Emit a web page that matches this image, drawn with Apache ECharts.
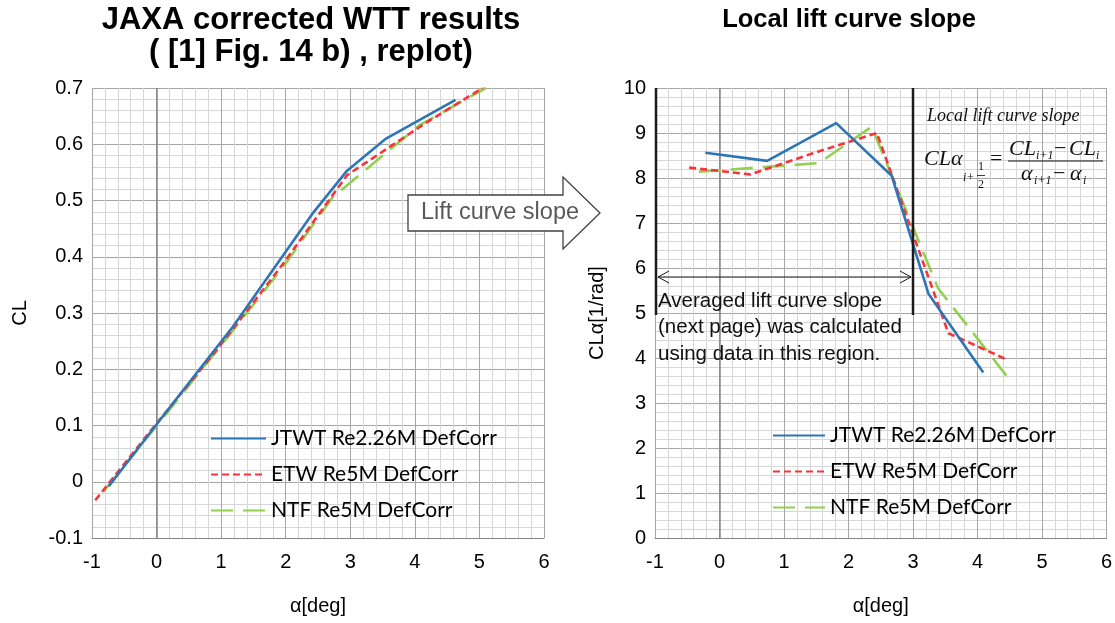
<!DOCTYPE html>
<html>
<head>
<meta charset="utf-8">
<script src="https://cdn.jsdelivr.net/npm/echarts@6/dist/echarts.min.js"></script>
<style>
html,body{margin:0;padding:0;background:#fff;}
#chart{width:1115px;height:623px;}
</style>
</head>
<body>
<div id="chart"></div>
<script>
// ---- data ----
const seriesNames = ['JTWT Re2.26M DefCorr', 'ETW Re5M DefCorr', 'NTF Re5M DefCorr'];
// Left chart: CL vs alpha [deg]
const clJTWT = [[-0.74,-0.008],[0.29,0.145],[1.19,0.277],[2.43,0.479],[2.95,0.553],[3.54,0.609],[4.63,0.679]];
const clETW  = [[-0.95,-0.033],[0.01,0.105],[0.95,0.237],[1.95,0.386],[2.95,0.545],[4.17,0.638],[5.05,0.700]];
const clNTF  = [[-0.82,-0.017],[0.18,0.125],[1.08,0.254],[2.00,0.388],[2.72,0.505],[4.06,0.633],[5.10,0.700]];
// Right chart: local lift curve slope CLalpha [1/rad] vs alpha [deg]
const slJTWT = [[-0.22,8.56],[0.74,8.38],[1.81,9.22],[2.67,8.05],[3.24,5.43],[4.09,3.68]];
const slETW  = [[-0.47,8.23],[0.48,8.08],[1.45,8.55],[2.44,9.00],[3.55,4.55],[4.48,3.95]];
const slNTF  = [[-0.32,8.14],[1.54,8.33],[2.36,9.14],[3.39,5.55],[4.48,3.55]];
// axis ticks
const xAxisTicks = {min: -1, max: 6, interval: 1};
const clTicks = {min: -0.1, max: 0.7, interval: 0.1};
const slTicks = {min: 0, max: 10, interval: 1};

const colors = ['#2e75b6', '#f7343c', '#92d050'];
const dashes = ['solid', [7, 4], [22, 10]];
const FONT = "'Liberation Sans', Arial, sans-serif";
const SERIF = "'Liberation Serif', 'Times New Roman', serif";

const chart = echarts.init(document.getElementById('chart'), null, {renderer: 'canvas'});

function xAxisCfg(gridIndex) {
  return {
    type: 'value', gridIndex: gridIndex,
    min: xAxisTicks.min, max: xAxisTicks.max, interval: xAxisTicks.interval,
    name: 'α[deg]', nameLocation: 'middle', nameGap: 58,
    nameTextStyle: {fontFamily: FONT, fontSize: 20, color: '#000'},
    axisLine: {show: true, onZero: false, lineStyle: {color: '#868686', width: 1}},
    axisTick: {show: false},
    axisLabel: {fontFamily: FONT, fontSize: 20, color: '#000', margin: 14},
    splitLine: {show: true, lineStyle: {color: '#a6a6a6', width: 1}},
    minorTick: {show: false, splitNumber: 5},
    minorSplitLine: {show: true, lineStyle: {color: '#d6d6d6', width: 1}}
  };
}
function yAxisCfg(gridIndex, t, name, gap, fmt) {
  return {
    type: 'value', gridIndex: gridIndex,
    min: t.min, max: t.max, interval: t.interval,
    name: name, nameLocation: 'middle', nameGap: gap, nameRotate: 90,
    nameTextStyle: {fontFamily: FONT, fontSize: 20, color: '#000'},
    axisLine: {show: false},
    axisTick: {show: false},
    axisLabel: {fontFamily: FONT, fontSize: 20, color: '#000', margin: 9, formatter: fmt},
    splitLine: {show: true, lineStyle: {color: '#a6a6a6', width: 1}},
    minorTick: {show: false, splitNumber: 5},
    minorSplitLine: {show: true, lineStyle: {color: '#d6d6d6', width: 1}}
  };
}
function lineSeries(i, data, gridIdx) {
  const s = {
    name: seriesNames[i], type: 'line', xAxisIndex: gridIdx, yAxisIndex: gridIdx,
    data: data, showSymbol: false, symbol: 'none', clip: true, z: 5 + (2 - i),
    lineStyle: {color: colors[i], width: 2.6, type: dashes[i], cap: 'butt'},
    itemStyle: {color: colors[i]}
  };
  if (i === 0) {
    s.markLine = {
      silent: true, symbol: 'none', animation: false,
      label: {show: false},
      lineStyle: {color: '#868686', type: 'solid', width: 1.5},
      data: [{xAxis: 0}]
    };
  }
  return s;
}

const legendCommon = {
  orient: 'vertical', itemGap: 15, itemHeight: 14, padding: 0,
  textStyle: {fontFamily: "Lato, 'Open Sans', sans-serif", fontSize: 21, color: '#000'},
  itemStyle: {opacity: 0},
  selectedMode: false
};

const option = {
  animation: false,
  backgroundColor: '#fff',
  grid: [
    {left: 92, right: 1115 - 544, top: 88, bottom: 623 - 538, containLabel: false},
    {left: 655, right: 1115 - 1107, top: 88, bottom: 623 - 538, containLabel: false}
  ],
  xAxis: [xAxisCfg(0), xAxisCfg(1)],
  yAxis: [
    yAxisCfg(0, clTicks, 'CL', 62, v => String(+v.toFixed(1))),
    yAxisCfg(1, slTicks, 'CLα[1/rad]', 48, v => String(v))
  ],
  legend: [
    Object.assign({}, legendCommon, {left: 210, top: 428, itemWidth: 55, data: seriesNames}),
    Object.assign({}, legendCommon, {left: 772, top: 425, itemWidth: 52, data: seriesNames})
  ],
  series: [
    lineSeries(0, clJTWT, 0), lineSeries(1, clETW, 0), lineSeries(2, clNTF, 0),
    lineSeries(0, slJTWT, 1), lineSeries(1, slETW, 1), lineSeries(2, slNTF, 1)
  ],
  graphic: [
    // titles
    {type: 'text', z: 50, style: {text: 'JAXA corrected WTT results\n( [1] Fig. 14 b) , replot)', x: 311, y: 4,
      textAlign: 'center', textVerticalAlign: 'top', font: 'bold 31px ' + FONT, lineHeight: 32, fill: '#000'}},
    {type: 'text', z: 50, style: {text: 'Local lift curve slope', x: 849, y: 4,
      textAlign: 'center', textVerticalAlign: 'top', font: 'bold 25.5px ' + FONT, lineHeight: 32, fill: '#000'}},
    // lift curve slope arrow
    {type: 'polygon', z: 60, shape: {points: [[408,195],[563,195],[563,177],[600,213],[563,249],[563,231],[408,231]]},
      style: {fill: '#fff', stroke: '#404040', lineWidth: 1.3}},
    {type: 'text', z: 61, style: {text: 'Lift curve slope', x: 421, y: 213, textVerticalAlign: 'middle',
      font: '23.5px ' + FONT, fill: '#595959'}},
    // region lines (right chart)
    {type: 'line', z: 40, shape: {x1: 656, y1: 88, x2: 656, y2: 315}, style: {stroke: '#1a1a1a', lineWidth: 2.5}},
    {type: 'line', z: 40, shape: {x1: 913, y1: 88, x2: 913, y2: 315}, style: {stroke: '#1a1a1a', lineWidth: 2.5}},
    {type: 'line', z: 40, shape: {x1: 658, y1: 277, x2: 911, y2: 277}, style: {stroke: '#1a1a1a', lineWidth: 1}},
    {type: 'polyline', z: 40, shape: {points: [[669,271],[658,277],[669,283]]}, style: {stroke: '#1a1a1a', lineWidth: 1, fill: null}},
    {type: 'polyline', z: 40, shape: {points: [[900,271],[911,277],[900,283]]}, style: {stroke: '#1a1a1a', lineWidth: 1, fill: null}},
    {type: 'text', z: 40, style: {text: 'Averaged lift curve slope\n(next page) was calculated\nusing data in this region.',
      x: 658, y: 288, textVerticalAlign: 'top', font: '20.5px ' + FONT, lineHeight: 26.5, fill: '#111'}},
    // formula
    {type: 'text', z: 40, style: {text: 'Local lift curve slope', x: 927, y: 116, textVerticalAlign: 'middle',
      font: 'italic 18px ' + SERIF, fill: '#111'}},
    {type: 'text', z: 40, style: {text: 'CLα', x: 924, y: 159, textVerticalAlign: 'middle', font: 'italic 22px ' + SERIF, fill: '#111'}},
    {type: 'text', z: 40, style: {text: 'i+', x: 963, y: 178, textVerticalAlign: 'middle', font: 'italic 12px ' + SERIF, fill: '#111'}},
    {type: 'text', z: 40, style: {text: '1', x: 981, y: 167, textAlign: 'center', textVerticalAlign: 'middle', font: '12px ' + SERIF, fill: '#111'}},
    {type: 'line', z: 40, shape: {x1: 977, y1: 175.5, x2: 985, y2: 175.5}, style: {stroke: '#111', lineWidth: 0.8}},
    {type: 'text', z: 40, style: {text: '2', x: 981, y: 185, textAlign: 'center', textVerticalAlign: 'middle', font: '12px ' + SERIF, fill: '#111'}},
    {type: 'text', z: 40, style: {text: '=', x: 990, y: 159, textVerticalAlign: 'middle', font: '22px ' + SERIF, fill: '#111'}},
    {type: 'text', z: 40, style: {text: 'CL', x: 1009, y: 149, textVerticalAlign: 'middle', font: 'italic 22px ' + SERIF, fill: '#111'}},
    {type: 'text', z: 40, style: {text: 'i+1', x: 1036, y: 156, textVerticalAlign: 'middle', font: 'italic 12px ' + SERIF, fill: '#111'}},
    {type: 'text', z: 40, style: {text: '−', x: 1054, y: 149, textVerticalAlign: 'middle', font: '22px ' + SERIF, fill: '#111'}},
    {type: 'text', z: 40, style: {text: 'CL', x: 1069, y: 149, textVerticalAlign: 'middle', font: 'italic 22px ' + SERIF, fill: '#111'}},
    {type: 'text', z: 40, style: {text: 'i', x: 1096, y: 156, textVerticalAlign: 'middle', font: 'italic 12px ' + SERIF, fill: '#111'}},
    {type: 'line', z: 40, shape: {x1: 1008, y1: 161, x2: 1103, y2: 161}, style: {stroke: '#111', lineWidth: 1}},
    {type: 'text', z: 40, style: {text: 'α', x: 1021, y: 174, textVerticalAlign: 'middle', font: 'italic 22px ' + SERIF, fill: '#111'}},
    {type: 'text', z: 40, style: {text: 'i+1', x: 1034, y: 181, textVerticalAlign: 'middle', font: 'italic 12px ' + SERIF, fill: '#111'}},
    {type: 'text', z: 40, style: {text: '−', x: 1053, y: 174, textVerticalAlign: 'middle', font: '22px ' + SERIF, fill: '#111'}},
    {type: 'text', z: 40, style: {text: 'α', x: 1070, y: 174, textVerticalAlign: 'middle', font: 'italic 22px ' + SERIF, fill: '#111'}},
    {type: 'text', z: 40, style: {text: 'i', x: 1083, y: 181, textVerticalAlign: 'middle', font: 'italic 12px ' + SERIF, fill: '#111'}}
  ]
};
chart.setOption(option);
</script>
</body>
</html>
